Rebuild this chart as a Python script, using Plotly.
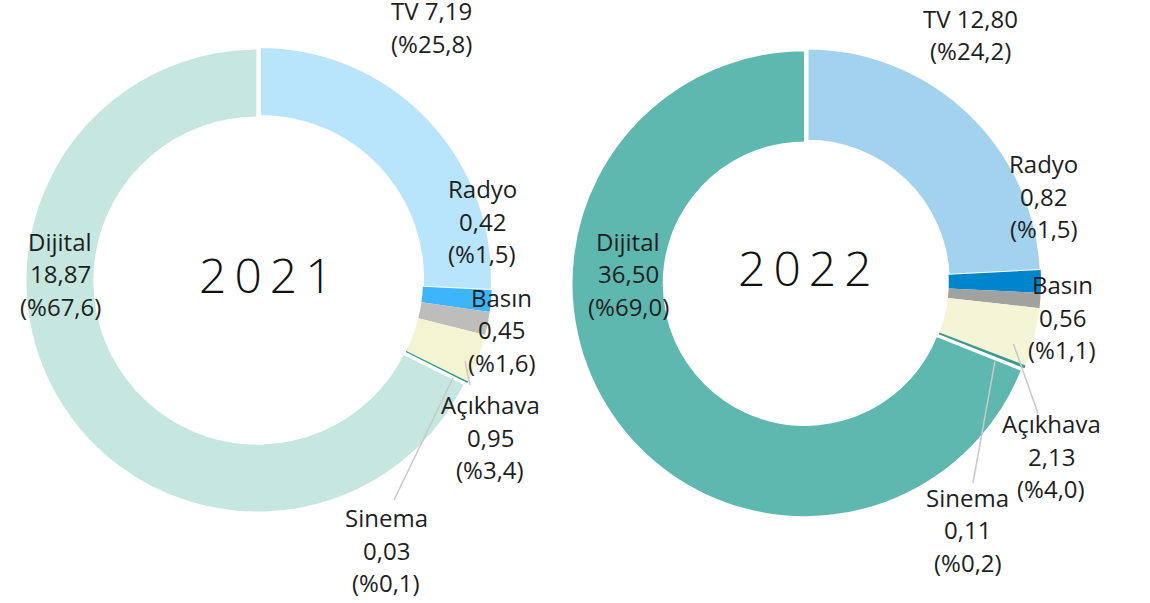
import plotly.graph_objects as go

# ---------------- data ----------------
categories = ["TV", "Radyo", "Basın", "Açıkhava", "Sinema", "Dijital"]
values_2021 = [7.19, 0.42, 0.45, 0.95, 0.03, 18.87]
values_2022 = [12.80, 0.82, 0.56, 2.13, 0.11, 36.50]
years = ["2021", "2022"]

colors_2021 = ["#b9e5fc", "#3db5fc", "#bdbdbb", "#f4f4d3", "#2f9c90", "#c5e7e0"]
colors_2022 = ["#a3d2ef", "#0084cc", "#a1a19f", "#f4f4d6", "#3d9990", "#5eb8b0"]

# ---------------- layout helpers ----------------
W, H = 1150, 603
FONT = "Open Sans"
TXT = "#1e1e1e"
LINE_PITCH = 32.5


def px(x):
    return x / W


def py(y):
    return 1 - y / H


def num(v, d):
    return f"{v:.{d}f}".replace(".", ",")


def label_lines(cat, v, total):
    pct = "(%" + num(v / total * 100, 1) + ")"
    if cat == "TV":
        return [f"TV {num(v, 2)}", pct]
    return [cat, num(v, 2), pct]


# pie geometry (pixel centre, outer radius, hole, pull on Dijital)
pies = [
    dict(year=years[0], values=values_2021, colors=colors_2021,
         cx=260, cy=279, r=232, hole=0.703, year_pos=(269.5, 274.5),
         labels={"TV": (431, 11.5), "Radyo": (482, 189.5), "Basın": (501.5, 298),
                 "Açıkhava": (490, 405.5), "Sinema": (386, 518.5), "Dijital": (60, 242)},
         leaders=[((465, 361), (470, 385)), ((453, 378), (394, 500))]),
    dict(year=years[1], values=values_2022, colors=colors_2022,
         cx=807.5, cy=282, r=233.5, hole=0.605, year_pos=(808.5, 267),
         labels={"TV": (970, 19), "Radyo": (1043.5, 164.5), "Basın": (1062, 285.5),
                 "Açıkhava": (1051, 424.5), "Sinema": (967.5, 498), "Dijital": (628, 242)},
         leaders=[((1013.5, 344), (1038, 413.5)), ((995, 361), (973, 483))]),
]

PULL = 0.013

fig = go.Figure()
annotations = []
shapes = []

for p in pies:
    half = p["r"] * (1 + PULL)
    pulls = [PULL if c == "Dijital" else 0 for c in categories]
    widths = [2 if c in ("TV", "Dijital") else 0 for c in categories]
    fig.add_trace(go.Pie(
        labels=categories,
        values=p["values"],
        hole=p["hole"],
        sort=False,
        direction="clockwise",
        rotation=0,
        pull=pulls,
        marker=dict(colors=p["colors"], line=dict(color="white", width=widths)),
        textinfo="none",
        hoverinfo="label+value+percent",
        showlegend=False,
        domain=dict(x=[px(p["cx"] - half), px(p["cx"] + half)],
                    y=[py(p["cy"] + half), py(p["cy"] - half)]),
    ))

    total = sum(p["values"])
    for cat, v in zip(categories, p["values"]):
        lx, ly = p["labels"][cat]
        for i, line in enumerate(label_lines(cat, v, total)):
            annotations.append(dict(
                x=px(lx), y=py(ly + i * LINE_PITCH - 0.7), xref="paper", yref="paper",
                text=line, showarrow=False, xanchor="center", yanchor="middle",
                font=dict(family=FONT, size=24, color=TXT),
            ))

    yx, yy = p["year_pos"]
    annotations.append(dict(
        x=px(yx), y=py(yy), xref="paper", yref="paper",
        text=f'<span style="letter-spacing:8px">{p["year"]}</span>',
        showarrow=False, xanchor="center", yanchor="middle",
        font=dict(family=FONT, size=48, color="#111111", weight=300),
    ))

    for (x0, y0), (x1, y1) in p["leaders"]:
        shapes.append(dict(type="line", xref="paper", yref="paper",
                           x0=px(x0), y0=py(y0), x1=px(x1), y1=py(y1),
                           line=dict(color="#c8c8c8", width=1.5), layer="above"))

fig.update_layout(
    width=W, height=H,
    margin=dict(l=0, r=0, t=0, b=0),
    paper_bgcolor="white", plot_bgcolor="white",
    annotations=annotations, shapes=shapes,
    showlegend=False,
)

fig.write_html(
    "out.html",
    config={"displayModeBar": False},
    post_script="document.body.style.margin='0';document.body.style.overflow='hidden';",
)
